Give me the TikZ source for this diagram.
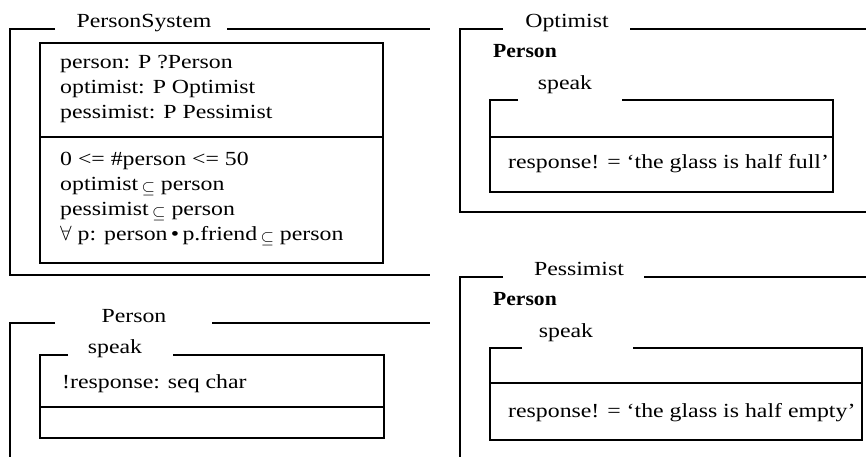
\documentclass[tikz,border=0pt]{standalone}
\usepackage{fontspec}
\setmainfont{Liberation Serif}[FakeStretch=1.19]
\newfontfamily\headfont{Liberation Serif Bold}[FakeStretch=1.08]
\newcommand{\subeq}{\,\raisebox{-3pt}{\fontsize{16}{16}\selectfont$\subseteq$}}
\begin{document}
\begin{tikzpicture}[x=1pt, y=1pt,
    frame/.style={line width=2.2pt},
    ttl/.style={anchor=base, inner sep=0pt, font=\fontsize{20}{24}\selectfont},
    txt/.style={anchor=base west, inner sep=0pt, font=\fontsize{20}{24}\selectfont},
    hd/.style={anchor=base west, inner sep=0pt, font=\fontsize{20}{24}\headfont}]

    \useasboundingbox (0,0) rectangle (866,-457);

    % 1. Schema PersonSystem (trên trái)
    \draw[frame] (55,-29) -| (10,-275) -- (430,-275);
    \draw[frame] (227,-29) -- (430,-29);
    \node[ttl] (ps-title) at (144,-28) {PersonSystem};

    \draw[frame] (40,-43) rectangle (383,-263);
    \draw[frame] (40,-137) -- (383,-137);

    \node[txt] (ps-d1) at (60,-69)  {person: P ?Person};
    \node[txt] (ps-d2) at (60,-94)  {optimist: P Optimist};
    \node[txt] (ps-d3) at (60,-119) {pessimist: P Pessimist};
    \node[txt] (ps-p1) at (60,-165) {0 <= \#person <= 50};
    \node[txt] (ps-p2) at (60,-190) {optimist\subeq{} person};
    \node[txt] (ps-p3) at (60,-215) {pessimist\subeq{} person};
    \node[txt] (ps-p4) at (60,-240) {$\forall$ p: person\,\textbullet\,p.friend\subeq{} person};

    % 2. Lớp Optimist (trên phải)
    \draw[frame] (503,-29) -| (460,-212) -- (866,-212);
    \draw[frame] (630,-29) -- (866,-29);
    \node[ttl] (opt-title) at (567,-28) {Optimist};
    \node[hd] (opt-base) at (493,-58) {Person};
    \node[ttl] (opt-op) at (565,-90) {speak};

    \draw[frame] (518,-100) -| (490,-192) -- (833,-192) |- (622,-100);
    \draw[frame] (490,-137) -- (833,-137);
    \node[txt] (opt-resp) at (508,-168) {response! = `the glass is half full'};

    % 3. Lớp Person (dưới trái)
    \draw[frame] (55,-323) -| (10,-458);
    \draw[frame] (212,-323) -- (430,-323);
    \node[ttl] (per-title) at (134,-322) {Person};
    \node[ttl] (per-op) at (115,-353) {speak};

    \draw[frame] (68,-355) -| (40,-438) -- (384,-438) |- (173,-355);
    \draw[frame] (40,-407) -- (384,-407);
    \node[txt] (per-out) at (62,-388) {!response: seq char};

    % 4. Lớp Pessimist (dưới phải)
    \draw[frame] (503,-277) -| (460,-458);
    \draw[frame] (644,-277) -- (866,-277);
    \node[ttl] (pes-title) at (579,-275) {Pessimist};
    \node[hd] (pes-base) at (493,-305) {Person};
    \node[ttl] (pes-op) at (566,-337) {speak};

    \draw[frame] (522,-348) -| (490,-440) -- (862,-440) |- (633,-348);
    \draw[frame] (490,-383) -- (862,-383);
    \node[txt] (pes-resp) at (508,-417) {response! = `the glass is half empty'};

\end{tikzpicture}
\end{document}
